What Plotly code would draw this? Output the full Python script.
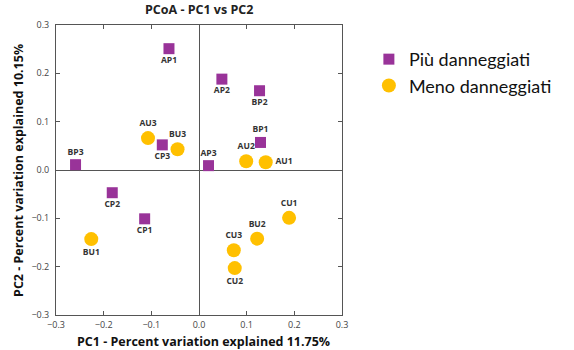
import plotly.graph_objects as go

# Data
p_labels = ["AP1", "AP2", "BP2", "BP1", "CP3", "BP3", "AP3", "CP2", "CP1"]
p_x = [-0.063, 0.048, 0.127, 0.129, -0.077, -0.259, 0.020, -0.182, -0.114]
p_y = [0.251, 0.188, 0.164, 0.057, 0.052, 0.011, 0.009, -0.047, -0.101]
p_pos = ["bottom center", "bottom center", "bottom center", "top center", "bottom center",
         "top center", "top center", "bottom center", "bottom center"]

u_labels = ["AU3", "BU3", "AU2", "AU1", "BU1", "CU1", "BU2", "CU3", "CU2"]
u_x = [-0.107, -0.045, 0.099, 0.140, -0.226, 0.189, 0.122, 0.073, 0.075]
u_y = [0.066, 0.043, 0.018, 0.016, -0.143, -0.099, -0.142, -0.166, -0.203]
u_pos = ["top center", "top center", "top center", "middle right", "bottom center",
         "top center", "top center", "top center", "bottom center"]

series_names = ["Più danneggiati", "Meno danneggiati"]
tick_vals = [-0.3, -0.2, -0.1, 0.0, 0.1, 0.2, 0.3]
tick_text = ["\u22120.3", "\u22120.2", "\u22120.1", "0.0", "0.1", "0.2", "0.3"]
x_title = "PC1 - Percent variation explained 11.75%"
y_title = "PC2 - Percent variation explained 10.15%"

PURPLE = "#993399"
YELLOW = "#FFC000"
label_font = dict(family="Open Sans", size=8.5, color="#333333")
title_font = dict(family="Open Sans", size=12.5, color="#111111")

fig = go.Figure()
fig.add_trace(go.Scatter(
    x=p_x, y=p_y, mode="markers+text", name=series_names[0],
    text=["<b>%s</b>" % t for t in p_labels], textposition=p_pos, textfont=label_font,
    marker=dict(symbol="square", size=11, color=PURPLE),
))
fig.add_trace(go.Scatter(
    x=u_x, y=u_y, mode="markers+text", name=series_names[1],
    text=["<b>%s</b>" % t for t in u_labels], textposition=u_pos, textfont=label_font,
    marker=dict(symbol="circle", size=14, color=YELLOW),
))

axis_common = dict(
    range=[-0.3, 0.3], tickvals=tick_vals, ticktext=tick_text, automargin=False,
    showgrid=False, zeroline=True, zerolinecolor="#555555", zerolinewidth=1,
    showline=True, linecolor="#555555", linewidth=1, mirror="ticks",
    ticks="inside", ticklen=4, tickcolor="#555555",
    tickfont=dict(family="Open Sans", size=9, color="#444444"),
)

fig.update_layout(
    width=574, height=350,
    margin=dict(l=56, r=232, t=25, b=35, autoexpand=False),
    paper_bgcolor="white", plot_bgcolor="white",
    title=dict(text="<b>PCoA - PC1 vs PC2</b>", x=0.347, xanchor="center", y=0.972, yanchor="middle",
               font=dict(family="Open Sans", size=12.5, color="#222222")),
    xaxis=dict(**axis_common, ticklabelstandoff=1),
    yaxis=dict(**axis_common, ticklabelstandoff=4),
    annotations=[
        dict(text="<b>%s</b>" % x_title, xref="paper", yref="paper", x=0.514, y=-0.092,
             xanchor="center", yanchor="middle", showarrow=False, font=title_font),
        dict(text="<b>%s</b>" % y_title, xref="paper", yref="paper", x=-0.133, y=0.5,
             xanchor="center", yanchor="middle", showarrow=False, textangle=-90, font=title_font),
    ],
    legend=dict(x=1.094, y=0.945, xanchor="left", yanchor="top",
                font=dict(family="Lato", size=18, color="#111111"),
                itemwidth=30, tracegroupgap=0, bgcolor="rgba(0,0,0,0)"),
    showlegend=True,
)

fig.write_html("out.html")
